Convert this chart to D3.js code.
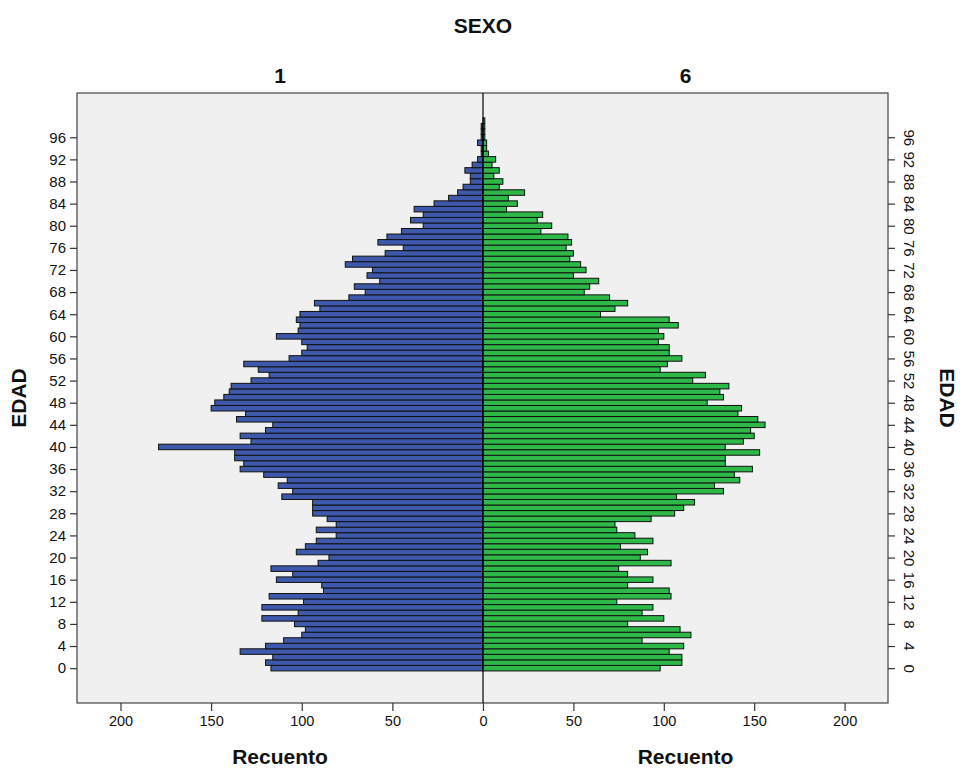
<!DOCTYPE html>
<html>
<head>
<meta charset="utf-8">
<script src="https://cdn.jsdelivr.net/npm/d3@7/dist/d3.min.js"></script>
<style>
  html, body { margin: 0; padding: 0; background: #ffffff; }
  svg { display: block; }
</style>
</head>
<body>
<script>
// ---- data ----
const ages = [0,1,2,3,4,5,6,7,8,9,10,11,12,13,14,15,16,17,18,19,20,21,22,23,24,25,26,27,28,29,
  30,31,32,33,34,35,36,37,38,39,40,41,42,43,44,45,46,47,48,49,50,51,52,53,54,55,56,57,58,59,
  60,61,62,63,64,65,66,67,68,69,70,71,72,73,74,75,76,77,78,79,80,81,82,83,84,85,86,87,88,89,
  90,91,92,93,94,95,96,97,98,99];
const sexo1 = [117,120,116,134,120,110,100,98,104,122,102,122,99,118,88,89,114,105,117,91,
  85,103,98,92,81,92,81,86,94,94,94,111,105,113,108,121,134,132,137,137,
  179,128,134,120,116,136,131,150,148,143,140,139,128,118,124,132,107,100,97,100,
  114,102,101,103,101,90,93,74,65,71,57,64,61,76,72,54,44,58,53,45,
  33,40,33,38,27,19,14,11,7,7,10,6,3,1,1,3,1,1,1,0];
const sexo6 = [98,110,110,103,111,88,115,109,80,100,88,94,74,104,103,80,94,80,75,104,
  87,91,76,94,84,74,73,93,106,111,117,107,133,128,142,139,149,134,134,153,
  134,144,150,148,156,152,141,143,124,133,131,136,116,123,98,102,110,103,103,97,
  100,97,108,103,65,73,80,70,56,59,64,50,57,54,48,50,46,49,47,32,
  38,30,33,13,19,14,23,9,11,6,9,5,7,3,2,2,1,1,1,1];
const groups = ["1", "6"];
const ageTicks = [0,4,8,12,16,20,24,28,32,36,40,44,48,52,56,60,64,68,72,76,80,84,88,92,96];
const countTicks = [0,50,100,150,200];

// ---- layout ----
const W = 963, H = 770;
const frame = {left: 77, right: 888, top: 93, bottom: 703};
const cx = 483;
const FONT = "'Liberation Sans', Arial, sans-serif";

const svg = d3.select("body").append("svg").attr("width", W).attr("height", H);

const y = d3.scaleLinear().domain([-6.3, 104.0]).range([frame.bottom, frame.top]);
const xL = d3.scaleLinear().domain([0, 224]).range([cx, frame.left]);
const xR = d3.scaleLinear().domain([0, 224]).range([cx, frame.right]);

// plot background
svg.append("rect")
  .attr("x", frame.left).attr("y", frame.top)
  .attr("width", frame.right - frame.left).attr("height", frame.bottom - frame.top)
  .attr("fill", "#f0f0f0");

const rows = ages.map((a, i) => ({age: a, m: sexo1[i], f: sexo6[i]}));

// left bars
svg.append("g").selectAll("rect").data(rows.filter(d => d.m > 0)).join("rect")
  .attr("x", d => xL(d.m))
  .attr("y", d => y(d.age + 0.5))
  .attr("width", d => xL(0) - xL(d.m))
  .attr("height", d => y(d.age - 0.5) - y(d.age + 0.5))
  .attr("fill", "#3e58ac")
  .attr("stroke", "#111")
  .attr("stroke-width", 1);

// right bars
svg.append("g").selectAll("rect").data(rows.filter(d => d.f > 0)).join("rect")
  .attr("x", xR(0))
  .attr("y", d => y(d.age + 0.5))
  .attr("width", d => xR(d.f) - xR(0))
  .attr("height", d => y(d.age - 0.5) - y(d.age + 0.5))
  .attr("fill", "#2eb848")
  .attr("stroke", "#111")
  .attr("stroke-width", 1);

// frame
svg.append("rect")
  .attr("x", frame.left).attr("y", frame.top)
  .attr("width", frame.right - frame.left).attr("height", frame.bottom - frame.top)
  .attr("fill", "none").attr("stroke", "#444").attr("stroke-width", 1.2);

// center line
svg.append("line")
  .attr("x1", cx).attr("x2", cx).attr("y1", frame.top).attr("y2", frame.bottom)
  .attr("stroke", "#000").attr("stroke-width", 1.2);

// left age axis
const axL = svg.append("g").attr("transform", `translate(${frame.left},0)`)
  .call(d3.axisLeft(y).tickValues(ageTicks).tickSize(7).tickPadding(4).tickFormat(d3.format("d")));
axL.select(".domain").remove();
axL.selectAll("line").attr("stroke", "#333").attr("stroke-width", 1.2);
axL.selectAll("text").attr("font-family", FONT).attr("font-size", 15).attr("fill", "#111");

// right age axis (rotated labels)
const axR = svg.append("g").attr("transform", `translate(${frame.right},0)`)
  .call(d3.axisRight(y).tickValues(ageTicks).tickSize(7).tickFormat(d3.format("d")));
axR.select(".domain").remove();
axR.selectAll("line").attr("stroke", "#333").attr("stroke-width", 1.2);
axR.selectAll("text")
  .attr("x", null).attr("dy", null)
  .attr("text-anchor", "middle")
  .attr("dominant-baseline", "central")
  .attr("transform", "translate(21,0) rotate(90)")
  .attr("font-family", FONT).attr("font-size", 15).attr("fill", "#111");

// bottom count axes
function styleBottom(g) {
  g.select(".domain").remove();
  g.selectAll("line").attr("stroke", "#333").attr("stroke-width", 1.2);
  g.selectAll("text").attr("font-family", FONT).attr("font-size", 14.5).attr("fill", "#111");
}
const axBL = svg.append("g").attr("transform", `translate(0,${frame.bottom})`)
  .call(d3.axisBottom(xL).tickValues(countTicks).tickSize(8).tickPadding(5));
styleBottom(axBL);
const axBR = svg.append("g").attr("transform", `translate(0,${frame.bottom})`)
  .call(d3.axisBottom(xR).tickValues(countTicks.filter(v => v > 0)).tickSize(8).tickPadding(5));
styleBottom(axBR);

// titles
const bold = (sel) => sel.attr("font-family", FONT).attr("font-weight", "bold").attr("fill", "#111");
const leftMid = (frame.left + cx) / 2, rightMid = (cx + frame.right) / 2;

svg.append("text").text("SEXO").attr("x", cx).attr("y", 33)
  .attr("text-anchor", "middle").attr("font-size", 21).call(bold);
svg.append("text").text(groups[0]).attr("x", leftMid).attr("y", 83)
  .attr("text-anchor", "middle").attr("font-size", 21).call(bold);
svg.append("text").text(groups[1]).attr("x", rightMid).attr("y", 83)
  .attr("text-anchor", "middle").attr("font-size", 21).call(bold);
svg.append("text").text("Recuento").attr("x", leftMid).attr("y", 764)
  .attr("text-anchor", "middle").attr("font-size", 21).call(bold);
svg.append("text").text("Recuento").attr("x", rightMid).attr("y", 764)
  .attr("text-anchor", "middle").attr("font-size", 21).call(bold);
svg.append("text").text("EDAD")
  .attr("transform", `translate(26,${(frame.top + frame.bottom) / 2}) rotate(-90)`)
  .attr("text-anchor", "middle").attr("font-size", 21).call(bold);
svg.append("text").text("EDAD")
  .attr("transform", `translate(940,${(frame.top + frame.bottom) / 2}) rotate(90)`)
  .attr("text-anchor", "middle").attr("font-size", 21).call(bold);
</script>
</body>
</html>
